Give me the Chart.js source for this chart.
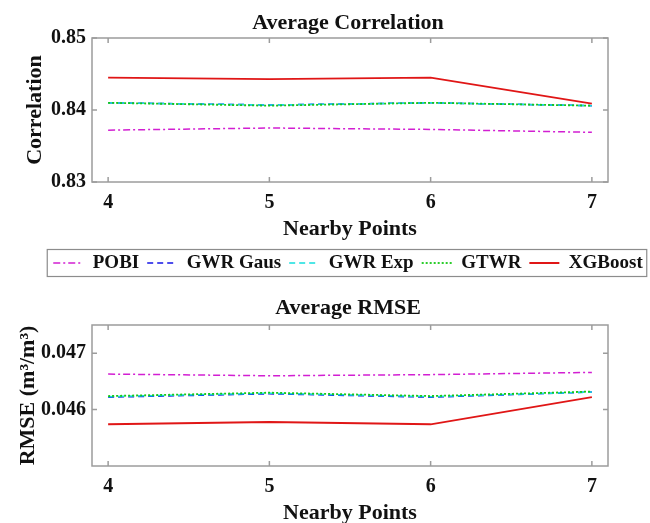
<!DOCTYPE html>
<html>
<head>
<meta charset="utf-8">
<script src="https://cdn.jsdelivr.net/npm/chart.js@4.4.1/dist/chart.umd.min.js"></script>
<style>
  html, body { margin: 0; padding: 0; background: #fff; overflow: hidden; width: 650px; height: 523px; }
  #corrChart { position: absolute; left: 0; top: 0; }
  #rmseChart { position: absolute; left: 0; top: 290px; }
</style>
</head>
<body>
<canvas id="corrChart" width="696" height="290"></canvas>
<canvas id="rmseChart" width="696" height="240"></canvas>
<script>
// x values (number of nearby points)
const nearbyPoints = [4, 5, 6, 7];
const seriesNames = ["POBI", "GWR Gaus", "GWR Exp", "GTWR", "XGBoost"];

// average correlation
const corrPOBI = [0.8372, 0.8375, 0.8373, 0.8369];
const corrGwrGaus = [0.8410, 0.8407, 0.8410, 0.8406];
const corrGwrExp = [0.8410, 0.8407, 0.8410, 0.8406];
const corrGTWR = [0.8410, 0.8406, 0.8410, 0.8406];
const corrXGBoost = [0.8445, 0.8443, 0.8445, 0.8409];

// average RMSE (m3/m3)
const rmsePOBI = [0.04663, 0.04660, 0.04662, 0.04666];
const rmseGwrGaus = [0.04622, 0.04628, 0.04622, 0.04631];
const rmseGwrExp = [0.04623, 0.04629, 0.04623, 0.04631];
const rmseGTWR = [0.04624, 0.04630, 0.04624, 0.04632];
const rmseXGBoost = [0.04574, 0.04578, 0.04574, 0.04622];

// tick labels
const xTicks = [4, 5, 6, 7];
const corrTicks = [0.83, 0.84, 0.85];
const rmseTicks = [0.046, 0.047];

const FONT = "'Liberation Serif', 'Times New Roman', serif";
const INK = "#111";

// line look per series, same order as seriesNames
const styles = [
  { color: "#d21fd2", dash: [7, 3, 2, 3], width: 1.5 },
  { color: "#1515e6", dash: [6, 4], width: 1.5 },
  { color: "#14dede", dash: [6, 4], width: 1.5 },
  { color: "#16c816", dash: [2, 2], width: 1.8 },
  { color: "#e01616", dash: [], width: 1.8 }
];

function buildDatasets(valueLists) {
  return valueLists.map((vals, i) => ({
    label: seriesNames[i],
    data: vals.map((v, j) => ({ x: nearbyPoints[j], y: v })),
    borderColor: styles[i].color,
    backgroundColor: styles[i].color,
    borderDash: styles[i].dash,
    borderWidth: styles[i].width,
    pointRadius: 0,
    tension: 0,
    fill: false,
    order: valueLists.length - i   // later series on top, like matlab
  }));
}

// box round the plot area with small inward ticks
const frame = {
  id: "frame",
  afterDatasetsDraw(chart) {
    const { ctx, chartArea: a, scales } = chart;
    ctx.save();
    ctx.strokeStyle = "#9c9c9c";
    ctx.lineWidth = 1.5;
    ctx.strokeRect(a.left, a.top, a.right - a.left, a.bottom - a.top);
    ctx.beginPath();
    scales.x.ticks.forEach(t => {
      const px = scales.x.getPixelForValue(t.value);
      ctx.moveTo(px, a.bottom); ctx.lineTo(px, a.bottom - 5);
      ctx.moveTo(px, a.top); ctx.lineTo(px, a.top + 5);
    });
    scales.y.ticks.forEach(t => {
      const py = scales.y.getPixelForValue(t.value);
      ctx.moveTo(a.left, py); ctx.lineTo(a.left + 5, py);
      ctx.moveTo(a.right, py); ctx.lineTo(a.right - 5, py);
    });
    ctx.stroke();
    ctx.restore();
  }
};

// border round the legend
const legendBox = {
  id: "legendBox",
  afterDraw(chart) {
    const lg = chart.legend;
    if (!lg || !lg.options.display || !lg.legendHitBoxes.length) return;
    const hb = lg.legendHitBoxes;
    const x0 = hb[0].left - 6;
    const x1 = hb[hb.length - 1].left + hb[hb.length - 1].width + 4;
    const y0 = hb[0].top - 4;
    const y1 = hb[0].top + hb[0].height + 4;
    const ctx = chart.ctx;
    ctx.save();
    ctx.strokeStyle = "#8c8c8c";
    ctx.lineWidth = 1.2;
    ctx.strokeRect(x0, y0, x1 - x0, y1 - y0);
    ctx.restore();
  }
};

function makeChart(id, cfg) {
  return new Chart(id, {
    type: "line",
    data: { datasets: buildDatasets(cfg.values) },
    options: {
      responsive: false,
      animation: false,
      layout: { padding: { top: 0, left: 0, right: 0, bottom: cfg.padBottom } },
      scales: {
        x: {
          type: "linear",
          min: 3.9, max: 7.1,
          afterBuildTicks: s => { s.ticks = xTicks.map(v => ({ value: v })); },
          afterFit: s => { s.height = cfg.xHeight; },
          grid: { display: false, drawTicks: false },
          border: { display: false },
          ticks: { padding: 9, color: INK, font: { family: FONT, size: 20, weight: "bold" } },
          title: {
            display: true, text: "Nearby Points", color: INK,
            font: { family: FONT, size: 22, weight: "bold" },
            padding: { top: 0, bottom: 3 }
          }
        },
        y: {
          position: "left",
          min: cfg.yMin, max: cfg.yMax,
          afterBuildTicks: s => { s.ticks = cfg.yTicks.map(v => ({ value: v })); },
          afterFit: s => { s.width = 92; },
          grid: { display: false, drawTicks: false },
          border: { display: false },
          ticks: {
            padding: 6, color: INK,
            font: { family: FONT, size: 20, weight: "bold" },
            callback: v => v.toFixed(cfg.decimals)
          },
          title: {
            display: true, text: cfg.yTitle, color: INK,
            font: { family: FONT, size: 22, weight: "bold" },
            padding: { top: cfg.yTitlePad, bottom: 0 }
          }
        },
        // empty right axis, keeps title and legend centred on the plot
        yRight: {
          position: "right",
          grid: { display: false, drawTicks: false },
          border: { display: false },
          ticks: { display: false },
          afterFit: s => { s.width = 88; }
        }
      },
      plugins: {
        title: {
          display: true, text: cfg.title, color: INK,
          font: { family: FONT, size: 22, weight: "bold" },
          padding: cfg.titlePad
        },
        legend: {
          display: cfg.legend,
          position: "bottom",
          labels: {
            usePointStyle: true,
            pointStyle: "line",
            pointStyleWidth: 30,
            padding: 8,
            color: INK,
            font: { family: FONT, size: 19, weight: "bold" },
            generateLabels: chart => chart.data.datasets.map((d, i) => ({
              text: d.label,
              strokeStyle: d.borderColor,
              fillStyle: d.borderColor,
              lineDash: d.borderDash,
              lineWidth: d.borderWidth,
              pointStyle: "line",
              fontColor: INK,
              hidden: false,
              datasetIndex: i
            }))
          }
        },
        tooltip: { enabled: false }
      }
    },
    plugins: [frame, legendBox]
  });
}

makeChart("corrChart", {
  values: [corrPOBI, corrGwrGaus, corrGwrExp, corrGTWR, corrXGBoost],
  title: "Average Correlation",
  titlePad: { top: 10, bottom: 1.6 },
  yTitle: "Correlation",
  yTitlePad: 22,
  yMin: 0.83, yMax: 0.85, yTicks: corrTicks, decimals: 2,
  xHeight: 63.5,
  padBottom: 7.5,
  legend: true
});

makeChart("rmseChart", {
  values: [rmsePOBI, rmseGwrGaus, rmseGwrExp, rmseGTWR, rmseXGBoost],
  title: "Average RMSE",
  titlePad: { top: 4.8, bottom: 3.8 },
  yTitle: "RMSE (m³/m³)",
  yTitlePad: 15,
  yMin: 0.045, yMax: 0.0475, yTicks: rmseTicks, decimals: 3,
  xHeight: 64,
  padBottom: 0,
  legend: false
});
</script>
</body>
</html>
